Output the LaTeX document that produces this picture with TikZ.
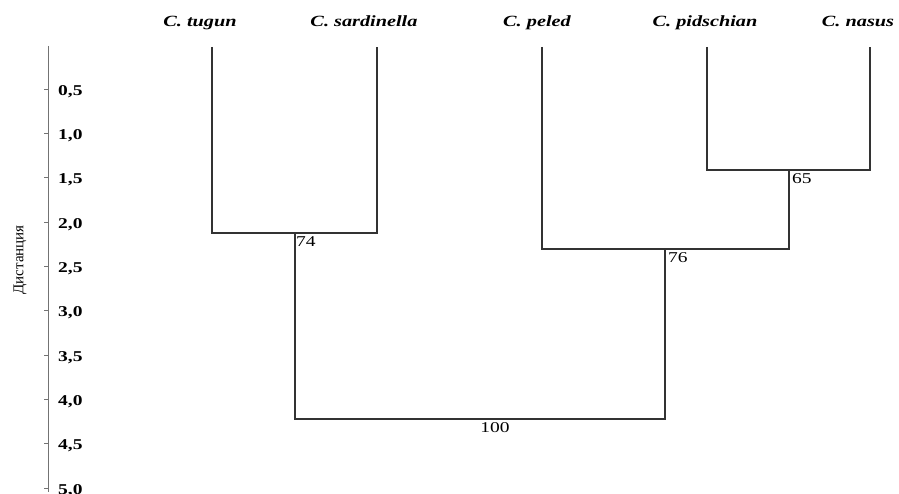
\documentclass[tikz,border=0pt]{standalone}
\usepackage{fontspec}
\setmainfont{Liberation Serif}[FakeStretch=1.3]
\newfontfamily\plainfont{Liberation Serif}
\begin{document}
\begin{tikzpicture}[x=1pt,y=-1pt,
  taxon/.style={font=\fontsize{15.6}{17}\selectfont\bfseries\itshape, inner sep=0pt, anchor=base},
  ticklab/.style={font=\fontsize{15}{17}\selectfont\bfseries, anchor=base west, inner sep=0pt},
  boot/.style={font=\fontsize{15}{17}\selectfont, inner sep=0pt},
  branch/.style={draw=black!80, line width=1.2pt},
  axis/.style={draw=black!55, line width=0.8pt}]
\useasboundingbox (0,0) rectangle (899,494);
% axis
\coordinate (ax0) at (48,46);
\coordinate (ax1) at (48,492);
\draw[axis] (ax0) -- (ax1);
\foreach \v/\t [count=\i] in {0.5/{0,5},1.0/{1,0},1.5/{1,5},2.0/{2,0},2.5/{2,5},3.0/{3,0},3.5/{3,5},4.0/{4,0},4.5/{4,5},5.0/{5,0}}{
  \pgfmathsetmacro{\yy}{45+88.6*\v}
  \draw[axis] (44,\yy) -- (48,\yy);
  \node[ticklab] (tk\i) at (58,\yy+6) {\t};
}
\node[rotate=90, inner sep=0pt, font=\plainfont\fontsize{15}{17}\selectfont] (ylab) at (20,260) {Дистанция};
% taxa
\node[taxon] (tugun) at (200,27) {C. tugun};
\node[taxon] (sard) at (364,27) {C. sardinella};
\node[taxon] (peled) at (537,27) {C. peled};
\node[taxon] (pids) at (705,27) {C. pidschian};
\node[taxon] (nasus) at (858,27) {C. nasus};
\coordinate (l1) at (212,47);
\coordinate (l2) at (377,47);
\coordinate (l3) at (542,47);
\coordinate (l4) at (707,47);
\coordinate (l5) at (870,47);
% joins
\coordinate (j1) at (295,233);
\coordinate (j2) at (789,170);
\coordinate (j3) at (665,249);
\coordinate (j0) at (295,419);
\draw[branch] (l1) |- (j1) -| (l2);
\draw[branch] (l4) |- (j2) -| (l5);
\draw[branch] (l3) |- (j3) -| (j2);
\draw[branch] (j1) |- (j0) -| (j3);
% bootstrap labels
\node[boot, anchor=north west] (b74) at (296,236) {74};
\node[boot, anchor=north west] (b65) at (792,173) {65};
\node[boot, anchor=north west] (b76) at (668,252) {76};
\node[boot, anchor=north] (b100) at (495,422) {100};
\end{tikzpicture}
\end{document}
